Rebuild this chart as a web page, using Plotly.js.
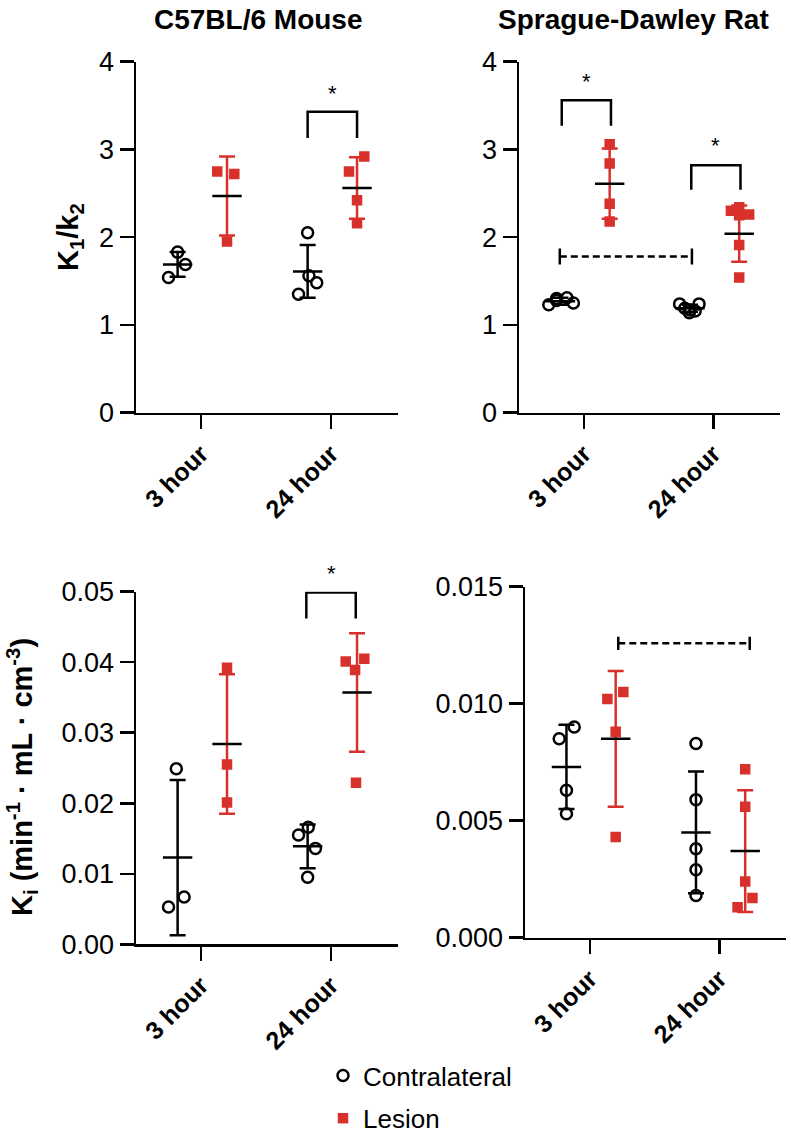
<!DOCTYPE html>
<html><head><meta charset="utf-8">
<script src="https://cdn.plot.ly/plotly-3.0.1.min.js"></script>
<style>html,body{margin:0;padding:0;background:#fff;overflow:hidden}#chart{width:791px;height:1135px}</style>
</head><body><div id="chart"></div>
<script>
// ---------------- DATA ----------------
const categories = ["3 hour", "24 hour"];
const seriesNames = ["Contralateral", "Lesion"];
const panelTitles = ["C57BL/6 Mouse", "Sprague-Dawley Rat"];
const yTitleTop = "K<sub>1</sub>/k<sub>2</sub>";
const yTitleBottom = "K<sub>i</sub> (min<sup>-1</sup> · mL · cm<sup>-3</sup>)";
const ticksRatio = [0, 1, 2, 3, 4];
const ticksMouseKi = [0, 0.01, 0.02, 0.03, 0.04, 0.05];
const ticksRatKi = [0, 0.005, 0.010, 0.015];

// Mouse K1/k2
const mouseRatioContra3h = [1.54, 1.83, 1.69];
const mouseRatioContra24h = [2.05, 1.35, 1.56, 1.48];
const mouseRatioLesion3h = [2.75, 2.72, 1.95];
const mouseRatioLesion24h = [2.92, 2.75, 2.42, 2.16];
const mouseRatioContraMean = [1.69, 1.61];
const mouseRatioContraSD = [0.14, 0.30];
const mouseRatioLesionMean = [2.47, 2.56];
const mouseRatioLesionSD = [0.45, 0.35];

// Rat K1/k2
const ratRatioContra3h = [1.23, 1.28, 1.31, 1.30, 1.25];
const ratRatioContra24h = [1.24, 1.24, 1.17, 1.14, 1.19, 1.16];
const ratRatioLesion3h = [3.06, 2.84, 2.38, 2.18];
const ratRatioLesion24h = [2.30, 2.34, 2.26, 2.25, 1.91, 1.54];
const ratRatioContraMean = [1.27, 1.19];
const ratRatioContraSD = [0.04, 0.04];
const ratRatioLesionMean = [2.61, 2.04];
const ratRatioLesionSD = [0.40, 0.32];

// Mouse Ki
const mouseKiContra3h = [0.0249, 0.0067, 0.0053];
const mouseKiContra24h = [0.0155, 0.0166, 0.0136, 0.0095];
const mouseKiLesion3h = [0.0392, 0.0255, 0.0201];
const mouseKiLesion24h = [0.0401, 0.0405, 0.0389, 0.0229];
const mouseKiContraMean = [0.0123, 0.0139];
const mouseKiContraSD = [0.0110, 0.0031];
const mouseKiLesionMean = [0.0284, 0.0357];
const mouseKiLesionSD = [0.0099, 0.0084];

// Rat Ki
const ratKiContra3h = [0.0090, 0.0085, 0.0063, 0.0053];
const ratKiContra24h = [0.0083, 0.0059, 0.0038, 0.0029, 0.0018];
const ratKiLesion3h = [0.0102, 0.0105, 0.0088, 0.0043];
const ratKiLesion24h = [0.0072, 0.0056, 0.0024, 0.0017, 0.0013];
const ratKiContraMean = [0.0073, 0.0045];
const ratKiContraSD = [0.0018, 0.0026];
const ratKiLesionMean = [0.0085, 0.0037];
const ratKiLesionSD = [0.0029, 0.0026];

// significance brackets: [bar level, leg end, star level]
const mouseRatioSig24h = [3.43, 3.13, 3.64];
const ratRatioSig3h = [3.56, 3.27, 3.78];
const ratRatioSig24h = [2.82, 2.54, 3.04];
const ratRatioContraTimeLine = [1.78];
const mouseKiSig24h = [0.0499, 0.0462, 0.0526];
const ratKiLesionTimeLine = [0.01258];

// ---------------- LAYOUT / STYLE ----------------
const FONT = "Liberation Sans, Arial, sans-serif";
const RED = "#d8312b";
const BLACK = "#000";
const OFF_C = -0.18, OFF_L = 0.2;   // group offsets within each category
// horizontal jitter of points (positions)
const jMouseRatio = {c: [[-0.07,0.0,0.06],[0.0,-0.07,0.01,0.07]], l: [[-0.075,0.056,0.0],[0.056,-0.062,0.0,0.0]]};
const jRatRatio = {c: [[-0.09,-0.03,0.05,-0.03,0.1],[-0.08,0.07,0.0,-0.005,-0.04,0.04]], l: [[0,0,0,0],[-0.064,0.0,0.077,0.0,0.0,0.0]]};
const jMouseKi = {c: [[-0.01,0.05,-0.07],[-0.07,0.005,0.06,0.0]], l: [[0,0,0],[-0.087,0.056,-0.015,-0.008]]};
const jRatKi = {c: [[0.06,-0.056,0.0,0.0],[0,0,0,0,0]], l: [[-0.064,0.059,0,0],[0,0,0,0.056,-0.059]]};

const traces = [];
const shapes = [];
const annotations = [];

function addPanel(xa, ya, c3, c24, l3, l24, cMean, cSD, lMean, lSD, jit, showLeg) {
  const groups = [[c3, c24], [l3, l24]];
  const means = [cMean, lMean];
  const sds = [cSD, lSD];
  const offs = [OFF_C, OFF_L];
  const cols = [BLACK, RED];
  const jits = [jit.c, jit.l];
  for (let g = 0; g < 2; g++) {
    const mx = categories.map((_, i) => i + offs[g]);
    traces.push({x: mx, y: means[g], xaxis: xa, yaxis: ya, type: 'scatter', mode: 'markers',
      marker: {size: 1, opacity: 0}, showlegend: false, hoverinfo: 'skip',
      error_y: {type: 'data', array: sds[g], visible: true, color: cols[g], thickness: 2.5, width: 8}});
    traces.push({x: mx, y: means[g], xaxis: xa, yaxis: ya, type: 'scatter', mode: 'markers',
      marker: {symbol: 'line-ew', size: 21, color: BLACK, line: {color: BLACK, width: 2.5}},
      showlegend: false, hoverinfo: 'skip'});
    const px = [], py = [];
    groups[g].forEach((vals, i) => vals.forEach((v, k) => { px.push(i + offs[g] + jits[g][i][k]); py.push(v); }));
    const marker = g === 0
      ? {symbol: 'circle-open', size: 11, color: BLACK, line: {width: 2.5, color: BLACK}}
      : {symbol: 'square', size: 10.5, color: RED, line: {width: 0}};
    traces.push({x: px, y: py, xaxis: xa, yaxis: ya, type: 'scatter', mode: 'markers', marker: marker,
      name: seriesNames[g], legendgroup: seriesNames[g], showlegend: showLeg, hoverinfo: 'skip'});
  }
}

function bracket(xa, ya, x0, x1, sig, yMax) {
  shapes.push({type: 'path', xref: xa, yref: ya,
    path: `M${x0},${sig[1]} L${x0},${sig[0]} L${x1},${sig[0]} L${x1},${sig[1]}`,
    line: {color: BLACK, width: 2.5}});
  annotations.push({xref: xa, yref: ya + ' domain', x: (x0 + x1) / 2, y: sig[2] / yMax, text: '*', showarrow: false,
    font: {family: FONT, size: 22, color: BLACK}, yanchor: 'middle'});
}

function dashLine(xa, ya, x0, x1, y, capHalf) {
  shapes.push({type: 'line', xref: xa, yref: ya, x0: x0, x1: x1, y0: y[0], y1: y[0],
    line: {color: BLACK, width: 2.5, dash: '7px,4px'}});
  [x0, x1].forEach(xx => shapes.push({type: 'line', xref: xa, yref: ya, x0: xx, x1: xx,
    y0: y[0] - capHalf, y1: y[0] + capHalf, line: {color: BLACK, width: 2.5}}));
}

addPanel('x', 'y', mouseRatioContra3h, mouseRatioContra24h, mouseRatioLesion3h, mouseRatioLesion24h,
  mouseRatioContraMean, mouseRatioContraSD, mouseRatioLesionMean, mouseRatioLesionSD, jMouseRatio, true);
addPanel('x2', 'y2', ratRatioContra3h, ratRatioContra24h, ratRatioLesion3h, ratRatioLesion24h,
  ratRatioContraMean, ratRatioContraSD, ratRatioLesionMean, ratRatioLesionSD, jRatRatio, false);
addPanel('x3', 'y3', mouseKiContra3h, mouseKiContra24h, mouseKiLesion3h, mouseKiLesion24h,
  mouseKiContraMean, mouseKiContraSD, mouseKiLesionMean, mouseKiLesionSD, jMouseKi, false);
addPanel('x4', 'y4', ratKiContra3h, ratKiContra24h, ratKiLesion3h, ratKiLesion24h,
  ratKiContraMean, ratKiContraSD, ratKiLesionMean, ratKiLesionSD, jRatKi, false);

bracket('x', 'y', 1 + OFF_C, 1 + OFF_L, mouseRatioSig24h, 4);
bracket('x2', 'y2', 0 + OFF_C + 0.01, 0 + OFF_L + 0.01, ratRatioSig3h, 4);
bracket('x2', 'y2', 1 + OFF_C + 0.01, 1 + OFF_L + 0.01, ratRatioSig24h, 4);
bracket('x3', 'y3', 1 + OFF_C - 0.01, 1 + OFF_L - 0.01, mouseKiSig24h, 0.05);
dashLine('x2', 'y2', 0 + OFF_C - 0.005, 1 + OFF_C + 0.015, ratRatioContraTimeLine, 0.09);
dashLine('x4', 'y4', 0 + OFF_L + 0.02, 1 + OFF_L + 0.035, ratKiLesionTimeLine, 0.00028);

function xAxis(dom, anchor) {
  return {domain: dom, anchor: anchor, range: [-0.5, 1.515], tickvals: [0, 1], ticktext: categories,
    tickangle: -45, ticks: 'outside', ticklen: 14, tickwidth: 2.5, tickcolor: BLACK,
    showline: true, linewidth: 2.5, linecolor: BLACK, showgrid: false, zeroline: false,
    tickfont: {family: FONT, size: 25, color: BLACK, weight: 'bold'}, fixedrange: true, automargin: false};
}
function yAxis(dom, anchor, range, tv, fmt) {
  return {domain: dom, anchor: anchor, range: range, tickvals: tv, tickformat: fmt,
    ticks: 'outside', ticklen: 14, tickwidth: 2.5, tickcolor: BLACK,
    showline: true, linewidth: 2.5, linecolor: BLACK, showgrid: false, zeroline: false,
    tickfont: {family: FONT, size: 27, color: BLACK}, fixedrange: true, automargin: false};
}
const W = 791, H = 1135;
const dx = (a, b) => [a / W, b / W];
const dy = (top, bottom) => [(H - bottom) / H, (H - top) / H];

annotations.push({xref: 'paper', yref: 'paper', x: 258 / W, y: (H - 19) / H, text: '<b>' + panelTitles[0] + '</b>',
  showarrow: false, font: {family: FONT, size: 28, color: BLACK}, xanchor: 'center', yanchor: 'middle'});
annotations.push({xref: 'paper', yref: 'paper', x: 633 / W, y: (H - 19) / H, text: '<b>' + panelTitles[1] + '</b>',
  showarrow: false, font: {family: FONT, size: 28, color: BLACK}, xanchor: 'center', yanchor: 'middle'});
annotations.push({xref: 'paper', yref: 'paper', x: 70 / W, y: (H - 237) / H, text: '<b>' + yTitleTop + '</b>',
  textangle: -90, showarrow: false, font: {family: FONT, size: 29, color: BLACK}, xanchor: 'center', yanchor: 'middle'});
annotations.push({xref: 'paper', yref: 'paper', x: 22 / W, y: (H - 777) / H, text: '<b>' + yTitleBottom + '</b>',
  textangle: -90, showarrow: false, font: {family: FONT, size: 29, color: BLACK}, xanchor: 'center', yanchor: 'middle'});

const layout = {
  width: W, height: H, margin: {l: 0, r: 0, t: 0, b: 0, autoexpand: false}, paper_bgcolor: '#fff', plot_bgcolor: 'rgba(0,0,0,0)',
  showlegend: true,
  legend: {x: 323 / W, y: (H - 1052) / H, xanchor: 'left', yanchor: 'top', font: {family: FONT, size: 26, color: BLACK},
    traceorder: 'grouped', tracegroupgap: 6, bgcolor: 'rgba(0,0,0,0)', itemclick: false},
  xaxis: xAxis(dx(136, 398), 'y'),
  yaxis: yAxis(dy(61.7, 412.7), 'x', [0, 4], ticksRatio, 'd'),
  xaxis2: xAxis(dx(519, 780), 'y2'),
  yaxis2: yAxis(dy(61.7, 412.7), 'x2', [0, 4], ticksRatio, 'd'),
  xaxis3: xAxis(dx(136, 398), 'y3'),
  yaxis3: yAxis(dy(591.7, 944.3), 'x3', [0, 0.05], ticksMouseKi, '.2f'),
  xaxis4: xAxis(dx(525, 786), 'y4'),
  yaxis4: yAxis(dy(586.7, 937.7), 'x4', [0, 0.015], ticksRatKi, '.3f'),
  shapes: shapes, annotations: annotations
};
Plotly.newPlot('chart', traces, layout, {displayModeBar: false, staticPlot: true});
</script></body></html>
